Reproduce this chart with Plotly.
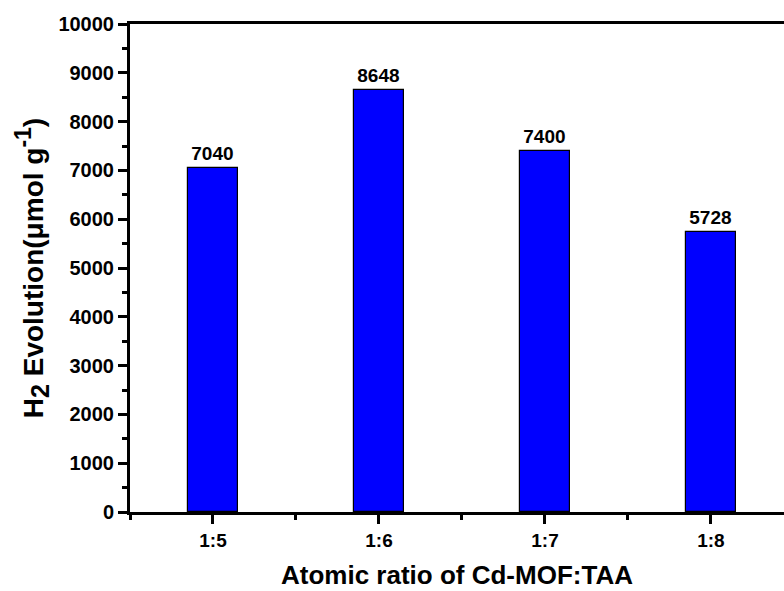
import plotly.graph_objects as go

categories = ["1:5", "1:6", "1:7", "1:8"]
values = [7040, 8648, 7400, 5728]
y_ticks = [0, 1000, 2000, 3000, 4000, 5000, 6000, 7000, 8000, 9000, 10000]

font_family = "Arial, Liberation Sans, sans-serif"

fig = go.Figure()
fig.add_trace(go.Bar(
    x=list(range(len(categories))),
    y=values,
    width=0.3,
    marker=dict(color="#0000FF", line=dict(color="black", width=1.2)),
    text=[str(v) for v in values],
    texttemplate="<b>%{text}</b>",
    textposition="outside",
    textfont=dict(family=font_family, size=19, color="black"),
    cliponaxis=False,
))

fig.update_layout(
    width=784, height=591,
    margin=dict(l=130, r=0, t=24, b=79),
    plot_bgcolor="white", paper_bgcolor="white",
    showlegend=False,
    bargap=0,
    font=dict(family=font_family, color="black"),
    xaxis=dict(
        range=[-0.5, 3.44],
        tickmode="array",
        tickvals=list(range(len(categories))),
        ticktext=["<b>%s</b>" % c for c in categories],
        tickfont=dict(size=19, family=font_family, color="black"),
        ticks="outside", ticklen=9, tickwidth=3, tickcolor="black",
        minor=dict(tickmode="array", tickvals=[-0.5, 0.5, 1.5, 2.5, 3.5],
                   ticks="outside", ticklen=5, tickwidth=3, tickcolor="black"),
        showline=True, linewidth=3, linecolor="black", mirror=True,
        showgrid=False, zeroline=False,
        title=dict(text="<b>Atomic ratio of Cd-MOF:TAA</b>",
                   font=dict(size=26, family=font_family, color="black"), standoff=17),
    ),
    yaxis=dict(
        range=[0, 10000],
        tickmode="array",
        tickvals=y_ticks,
        ticktext=["<b>%d</b>" % v for v in y_ticks],
        tickfont=dict(size=20, family=font_family, color="black"),
        ticks="outside", ticklen=9, tickwidth=3, tickcolor="black",
        minor=dict(tickmode="linear", tick0=0, dtick=500, ticks="outside", ticklen=5, tickwidth=3, tickcolor="black"),
        showline=True, linewidth=3, linecolor="black", mirror=False,
        showgrid=False, zeroline=False,
        title=dict(text="<b>H<sub><span style=\"font-size:25px\">2</span></sub> Evolution(μmol g<sup><span style=\"font-size:23px\">-1</span></sup>)</b>",
                   font=dict(size=28, family=font_family, color="black"), standoff=7),
    ),
)

fig.write_html("out.html")
